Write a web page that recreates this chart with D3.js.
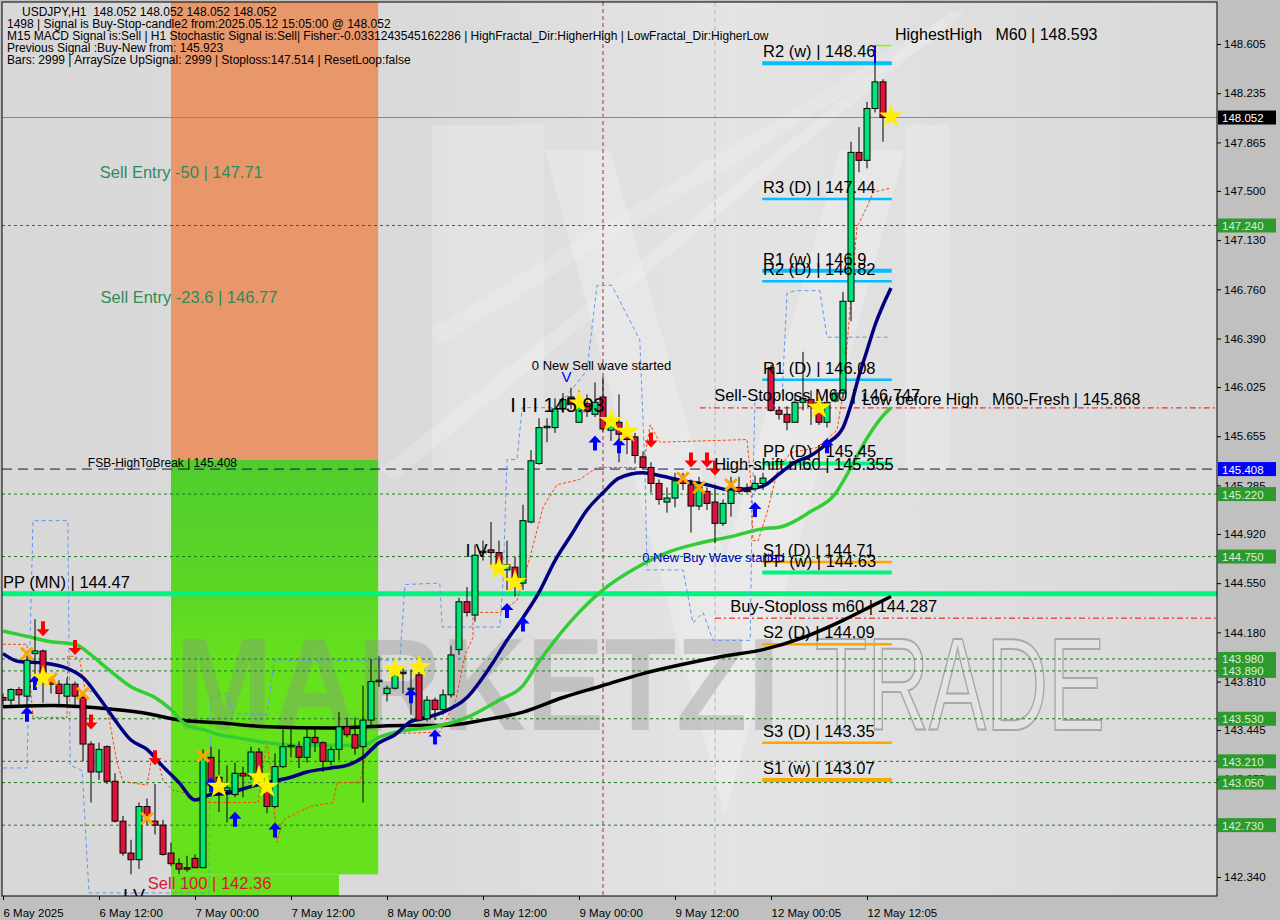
<!DOCTYPE html>
<html>
<head>
<meta charset="utf-8">
<script src="https://cdn.jsdelivr.net/npm/d3@7"></script>
<style>
body{margin:0;background:#c0c0c0;}
svg text{font-family:"Liberation Sans",Arial,sans-serif;white-space:pre;}
</style>
</head>
<body>
<div id="chart"></div>
<script>
// candles, one per hour, index 0 = 6 May 00:00
var opens  = [143.69,143.67,143.75,143.70,144.02,144.04,143.82,143.79,143.70,143.79,
              143.69,143.34,143.13,143.32,143.06,142.76,142.52,142.47,142.87,142.76,
              142.73,142.52,142.44,142.41,142.48,142.41,143.24,143.09,142.99,142.96,
              143.12,143.10,143.28,143.05,142.87,143.17,143.32,143.32,143.24,143.39,
              143.35,143.21,143.30,143.47,143.41,143.32,143.52,143.81,143.72,143.76,
              143.88,143.75,143.86,143.53,143.67,143.60,143.71,144.05,144.41,144.31,
              144.78,144.80,144.78,144.65,144.67,144.55,145.01,145.45,145.72,145.72,
              145.86,145.95,145.76,145.90,145.82,145.95,145.70,145.76,145.68,145.65,
              145.50,145.42,145.30,145.16,145.19,145.32,145.29,145.13,145.24,145.16,
              145.00,145.15,145.27,145.25,145.26,145.30,146.17,145.85,145.82,145.76,
              145.91,145.93,145.91,145.76,145.92,145.98,146.67,147.79,147.73,148.12,
              148.32];
var highs  = [143.72,143.76,143.77,144.03,144.28,144.05,143.85,143.82,143.84,143.81,
              143.71,143.36,143.35,143.33,143.12,142.80,142.62,142.90,142.93,143.04,
              142.77,142.60,142.48,142.50,142.51,143.30,143.32,143.30,143.18,143.20,
              143.17,143.32,143.31,143.08,143.27,143.45,143.46,143.36,143.45,143.45,
              143.36,143.32,143.58,143.54,143.54,143.78,143.98,144.00,143.78,143.91,
              143.92,143.90,143.90,143.70,143.69,143.75,144.08,144.44,144.52,144.84,
              144.87,145.01,144.87,144.87,144.75,145.14,145.55,145.79,145.79,145.94,
              145.98,146.02,146.00,145.97,146.06,146.10,145.83,145.97,145.72,145.68,
              145.54,145.46,145.33,145.27,145.38,145.38,145.33,145.35,145.27,145.29,
              145.18,145.35,145.35,145.30,145.36,145.38,146.19,145.88,145.88,145.98,
              146.29,146.00,145.95,146.00,146.00,146.74,147.87,147.98,148.17,148.593,
              148.34];
var lows   = [143.63,143.63,143.63,143.60,143.75,143.65,143.72,143.64,143.64,143.63,
              143.21,142.90,143.07,143.04,142.75,142.50,142.36,142.40,142.73,142.66,
              142.50,142.42,142.36,142.38,142.41,142.41,142.97,142.83,142.75,142.94,
              142.94,143.07,143.05,142.82,142.86,143.16,143.24,143.16,143.20,143.28,
              143.13,143.18,143.22,143.39,143.26,142.90,143.48,143.77,143.66,143.75,
              143.72,143.56,143.51,143.51,143.52,143.56,143.69,144.01,144.30,144.26,
              144.72,144.67,144.63,144.50,144.45,144.50,145.00,145.44,145.61,145.68,
              145.83,145.86,145.76,145.80,145.80,145.69,145.62,145.46,145.52,145.45,
              145.41,145.23,145.14,145.08,145.12,145.25,144.93,145.10,145.10,144.85,
              144.98,145.05,145.22,145.23,145.24,145.25,145.84,145.78,145.70,145.76,
              145.85,145.74,145.74,145.72,145.91,145.94,146.52,147.64,147.67,148.09,
              147.87];
var closes = [143.67,143.75,143.71,143.97,144.04,143.84,143.79,143.72,143.79,143.70,
              143.34,143.13,143.30,143.06,142.76,142.52,142.47,142.87,142.80,142.73,
              142.51,142.44,142.40,142.40,142.41,143.23,143.03,142.97,143.01,143.12,
              143.10,143.28,143.09,142.87,143.17,143.32,143.33,143.24,143.39,143.35,
              143.21,143.30,143.47,143.41,143.31,143.52,143.81,143.82,143.76,143.87,
              143.87,143.76,143.52,143.67,143.60,143.71,144.01,144.41,144.33,144.76,
              144.79,144.78,144.67,144.69,144.59,145.02,145.47,145.72,145.73,145.86,
              145.93,145.90,145.88,145.84,145.91,145.71,145.76,145.67,145.63,145.51,
              145.42,145.30,145.18,145.19,145.32,145.30,145.13,145.30,145.15,145.00,
              145.15,145.25,145.24,145.24,145.30,145.34,145.85,145.82,145.76,145.91,
              145.94,145.88,145.76,145.91,145.98,146.67,147.79,147.73,148.12,148.32,
              148.052];

var timeTickIdx = [0,12,24,36,48,60,72,84,96,108];
var timeLabels  = ["6 May 2025","6 May 12:00","7 May 00:00","7 May 12:00","8 May 00:00",
                   "8 May 12:00","9 May 00:00","9 May 12:00","12 May 00:05","12 May 12:05"];
var priceTicks  = [148.605,148.235,147.865,147.500,147.130,146.760,146.390,146.025,145.655,
                   145.285,144.920,144.550,144.180,143.810,143.445,143.075,142.340];

// moving averages (bar index, price)
var maNavyIdx = [0,2,5,8,10,12,14,16,18,20,22,24,26,28,31,33,36,38,41,43,45,47,49,51,53,55,58,61,63,65,67,69,71,73,75,77,80,82,85,88,91,93,95,97,99,101,103,105,106,107,108,109,110,111];
var maNavyVal = [144.02,143.96,143.95,143.91,143.84,143.69,143.52,143.37,143.30,143.17,143.05,142.92,142.96,142.97,143.02,143.05,143.09,143.13,143.16,143.18,143.24,143.35,143.41,143.51,143.54,143.58,143.69,143.93,144.12,144.29,144.48,144.72,144.91,145.10,145.23,145.34,145.38,145.36,145.32,145.29,145.25,145.26,145.28,145.37,145.46,145.51,145.60,145.72,145.89,146.11,146.30,146.49,146.64,146.77];
var maGreenIdx = [0,3,6,9,11,13,16,19,21,23,25,27,29,33,37,41,45,47,50,54,58,62,65,67,69,72,75,79,83,87,91,95,97,101,104,106,108,110,111];
var maGreenVal = [144.19,144.15,144.11,144.09,144.01,143.91,143.77,143.69,143.60,143.48,143.45,143.41,143.39,143.35,143.33,143.33,143.33,143.39,143.44,143.47,143.54,143.67,143.78,143.96,144.12,144.33,144.50,144.66,144.78,144.85,144.90,144.96,144.97,145.09,145.22,145.42,145.64,145.81,145.87];
var maBlackIdx = [0,6,10,14,18,22,27,33,41,50,55,60,65,70,75,80,85,90,95,100,105,109,111];
var maBlackVal = [143.62,143.63,143.62,143.60,143.57,143.52,143.50,143.47,143.46,143.48,143.48,143.52,143.58,143.69,143.78,143.87,143.94,144.00,144.05,144.14,144.27,144.39,144.45];

// trailing stop (orange dashed) and channel (blue dashed)
var trailIdx = [0,3,3.75,8,8.1,9,9.6,10.25,11.75,13,13.6,14.25,15,18,18.6,19.25,20,21.25,23,24.6,31.9,33,33.6,34.25,35,38.4,41.25,41.75,44.6,45.5,48,49.6,54.6,56.6,57.75,58.75,58.75,62.1,64.25,65.9,67.5,69.25,72.1,74.25,80,80.9,82.1,93,93.4,93.75,94.4,95.5,96.75,98.4,101.75,104.25,105,105.9,106.75,108,108.75,110.9];
var trailVal = [144.09,144.09,143.54,143.54,144.00,144.00,143.97,143.75,143.72,143.60,143.42,143.20,143.06,143.03,143.24,143.24,143.07,142.99,142.97,142.90,142.90,143.37,143.07,142.60,142.77,142.87,142.90,143.05,143.05,143.30,143.37,143.42,143.43,143.67,144.01,144.14,144.33,144.33,144.42,144.75,145.12,145.29,145.33,145.42,145.42,145.74,145.61,145.63,145.38,144.87,144.87,145.08,145.38,145.53,145.57,145.70,145.98,146.63,147.23,147.38,147.49,147.52];
var chanIdx = [0,3,3.75,8.1,8.4,9.9,10.75,25.75,26,28,28.75,33,33.9,49.6,50.25,54.6,54.9,62.1,62.5,63,64.25,64.9,69.25,73,74.25,76.1,79.6,80.25,80.5,85,86.25,87.5,88.75,93.4,93.6,94,96.25,97.4,98,99,102.1,103,110.6];
var chanVal = [143.16,143.16,145.02,145.02,143.18,143.14,142.22,142.22,143.69,143.72,143.57,143.56,143.97,143.97,144.54,144.55,144.22,144.22,144.55,145.48,145.48,145.87,145.87,146.15,146.79,146.79,146.38,145.40,144.65,144.65,144.25,144.33,144.12,144.12,144.97,145.93,145.93,145.98,146.73,146.75,146.75,146.40,146.40];

// signal markers
var downIdx = [5,9,11,19,81,86,88,89];
var downVal = [144.15,144.01,143.45,143.18,145.57,145.42,145.42,145.36];
var upIdx = [3,4,26,29,34,51,54,63,65,74,77,94,103];
var upVal = [143.62,143.86,143.09,142.83,142.75,143.76,143.45,144.40,144.30,145.66,145.64,145.16,145.64];
var starIdx = [5,27,32,33,49,52,62,64,72,76,78,102,111];
var starVal = [143.84,143.02,143.09,143.02,143.90,143.92,144.66,144.56,145.91,145.77,145.69,145.87,148.06];
var crossIdx = [3,6,10,18,25,85,87,91];
var crossVal = [144.02,143.83,143.72,142.78,143.25,145.34,145.27,145.29];

// horizontal levels
var levelValues = [147.240,145.220,144.750,143.980,143.890,143.530,143.210,143.050,142.730];
var lastPrice = 148.052;
var fsbLevel = 145.408;
var ppMonth = 144.47;
var pivotNames  = ["R2 (w)","R3 (D)","R1 (w)","R2 (D)","R1 (D)","PP (D)","S1 (D)","PP (w)","S2 (D)","S3 (D)","S1 (w)"];
var pivotValues = [148.46,147.44,146.9,146.82,146.08,145.45,144.71,144.63,144.09,143.35,143.07];
var sellStop = 145.868, buyStop = 144.287, highestHigh = 148.593;
var sellEntry50 = 147.71, sellEntry236 = 146.77, sell100 = 142.36, zoneTop = 145.476;

var headerLines = [
  "USDJPY,H1  148.052 148.052 148.052 148.052",
  "1498 | Signal is Buy-Stop-candle2 from:2025.05.12 15:05:00 @ 148.052",
  "M15 MACD Signal is:Sell | H1 Stochastic Signal is:Sell| Fisher:-0.0331243545162286 | HighFractal_Dir:HigherHigh | LowFractal_Dir:HigherLow",
  "Previous Signal :Buy-New from: 145.923",
  "Bars: 2999 | ArraySize UpSignal: 2999 | Stoploss:147.514 | ResetLoop:false"
];

function main(){ buildChart(); }

function buildChart(){
    var left = 2, top = 2, right = 1217, bottom = 896;

    var svg = d3.select("#chart").append("svg")
        .attr("width", 1280).attr("height", 920);

    var xScale = d3.scaleLinear().domain([0, 151.75]).range([3, 1217]);
    var yScale = d3.scaleLinear().domain([142.340, 148.605]).range([877, 44]);

    var defs = svg.append("defs");
    var bg = defs.append("linearGradient").attr("id", "bg").attr("x1", 0).attr("x2", 1).attr("y1", 0).attr("y2", 0);
    bg.append("stop").attr("offset", "0").attr("stop-color", "#d8d8d8");
    bg.append("stop").attr("offset", "0.35").attr("stop-color", "#dadada");
    bg.append("stop").attr("offset", "0.6").attr("stop-color", "#e4e4e4");
    bg.append("stop").attr("offset", "0.8").attr("stop-color", "#dedede");
    bg.append("stop").attr("offset", "1").attr("stop-color", "#d9d9d9");
    var gz = defs.append("linearGradient").attr("id", "gz").attr("x1", 0).attr("x2", 0).attr("y1", 0).attr("y2", 1);
    gz.append("stop").attr("offset", "0").attr("stop-color", "#4fcd2e");
    gz.append("stop").attr("offset", "0.35").attr("stop-color", "#5ed824");
    gz.append("stop").attr("offset", "0.5").attr("stop-color", "#66e21c");
    gz.append("stop").attr("offset", "1").attr("stop-color", "#66e21c");
    defs.append("clipPath").attr("id", "clip").append("rect")
        .attr("x", left).attr("y", top).attr("width", right - left).attr("height", bottom - top);

    svg.append("rect").attr("width", 1280).attr("height", 920).attr("fill", "#c0c0c0");
    svg.append("rect").attr("x", left).attr("y", top).attr("width", right - left).attr("height", bottom - top)
        .attr("fill", "url(#bg)");

    var plot = svg.append("g").attr("clip-path", "url(#clip)");

    // watermark logo
    var wm = plot.append("g").attr("fill", "#ffffff");
    wm.append("polygon").attr("points", "380,470 950,12 965,12 395,480").attr("opacity", 0.18);
    wm.append("polygon").attr("points", "430,330 940,20 950,30 440,345").attr("opacity", 0.15);
    wm.append("rect").attr("x", 432).attr("y", 125).attr("width", 112).attr("height", 345).attr("opacity", 0.2);
    wm.append("rect").attr("x", 905).attr("y", 125).attr("width", 45).attr("height", 345).attr("opacity", 0.2);
    wm.append("polygon").attr("points", "545,150 610,150 725,560 840,150 905,150 725,815").attr("opacity", 0.22);

    // zones
    plot.append("rect").attr("x", xScale(21)).attr("y", top)
        .attr("width", xScale(46.9) - xScale(21)).attr("height", yScale(zoneTop) - top)
        .attr("fill", "#e8976b");
    plot.append("rect").attr("x", xScale(21)).attr("y", yScale(zoneTop))
        .attr("width", xScale(46.9) - xScale(21)).attr("height", yScale(sell100) - yScale(zoneTop))
        .attr("fill", "url(#gz)");
    plot.append("rect").attr("x", xScale(21)).attr("y", yScale(sell100))
        .attr("width", xScale(42) - xScale(21)).attr("height", bottom - yScale(sell100))
        .attr("fill", "#66e21c");

    // watermark text
    plot.append("text").attr("x", 175).attr("y", 730).attr("font-size", 132).attr("font-weight", "bold")
        .attr("textLength", 605).attr("lengthAdjust", "spacingAndGlyphs")
        .attr("fill", "#8c8c8c").attr("fill-opacity", 0.35).text("MARKETZI");
    plot.append("text").attr("x", 815).attr("y", 730).attr("font-size", 132)
        .attr("textLength", 290).attr("lengthAdjust", "spacingAndGlyphs")
        .attr("fill", "#ffffff").attr("fill-opacity", 0.15).attr("stroke", "#a8a8a8").attr("stroke-width", 2)
        .text("TRADE");

    // vertical separators
    plot.append("line").attr("x1", xScale(75)).attr("x2", xScale(75)).attr("y1", top).attr("y2", bottom)
        .attr("stroke", "#a0304a").attr("stroke-dasharray", "4,3");
    plot.append("line").attr("x1", xScale(89)).attr("x2", xScale(89)).attr("y1", top).attr("y2", bottom)
        .attr("stroke", "#b8b8c8").attr("stroke-dasharray", "5,3");

    // level lines
    plot.selectAll(".lvl").data(levelValues).enter().append("line")
        .attr("x1", left).attr("x2", right).attr("y1", d => yScale(d)).attr("y2", d => yScale(d))
        .attr("stroke", "#1f7a1f").attr("stroke-dasharray", "3,3");
    plot.append("line").attr("x1", left).attr("x2", right).attr("y1", yScale(fsbLevel)).attr("y2", yScale(fsbLevel))
        .attr("stroke", "#141450").attr("stroke-dasharray", "10,6");
    plot.append("line").attr("x1", left).attr("x2", right).attr("y1", yScale(lastPrice)).attr("y2", yScale(lastPrice))
        .attr("stroke", "#7a8aa0");
    plot.append("line").attr("x1", left).attr("x2", right).attr("y1", yScale(ppMonth)).attr("y2", yScale(ppMonth))
        .attr("stroke", "#00f57f").attr("stroke-width", 5);
    plot.append("line").attr("x1", xScale(87.1)).attr("x2", right).attr("y1", yScale(sellStop)).attr("y2", yScale(sellStop))
        .attr("stroke", "#ff0000").attr("stroke-dasharray", "6,3,2,3");
    plot.append("line").attr("x1", xScale(89)).attr("x2", right).attr("y1", yScale(buyStop)).attr("y2", yScale(buyStop))
        .attr("stroke", "#ff0000").attr("stroke-dasharray", "6,3,2,3");

    // pivot lines
    function pivotColor(name){
        if (name.indexOf("PP") == 0) return "#00f57f";
        if (name.indexOf("R") == 0) return "#00bfff";
        return "#ffa500";
    }
    function pivotWidth(name){
        if (name.indexOf("(w)") > 0) return 4;
        if (name.indexOf("PP") == 0) return 4;
        return 2.5;
    }
    plot.selectAll(".piv").data(pivotValues).enter().append("line")
        .attr("x1", xScale(94.9)).attr("x2", xScale(111.1))
        .attr("y1", d => yScale(d)).attr("y2", d => yScale(d))
        .attr("stroke", (d, i) => pivotColor(pivotNames[i]))
        .attr("stroke-width", (d, i) => pivotWidth(pivotNames[i]));

    // channel and trailing lines
    var chanLine = d3.line().x(d => xScale(d[0])).y(d => yScale(d[1]));
    plot.append("path").datum(d3.zip(chanIdx, chanVal)).attr("d", chanLine)
        .attr("fill", "none").attr("stroke", "#6495ed").attr("stroke-dasharray", "4,3");
    plot.append("path").datum(d3.zip(trailIdx, trailVal)).attr("d", chanLine)
        .attr("fill", "none").attr("stroke", "#ff4500").attr("stroke-dasharray", "3,2");

    // moving averages
    var maLine = d3.line().x(d => xScale(d[0])).y(d => yScale(d[1])).curve(d3.curveMonotoneX);
    plot.append("path").datum(d3.zip(maBlackIdx, maBlackVal)).attr("d", maLine)
        .attr("fill", "none").attr("stroke", "#000000").attr("stroke-width", 3.5);
    plot.append("path").datum(d3.zip(maGreenIdx, maGreenVal)).attr("d", maLine)
        .attr("fill", "none").attr("stroke", "#32cd32").attr("stroke-width", 3.5);
    plot.append("path").datum(d3.zip(maNavyIdx, maNavyVal)).attr("d", maLine)
        .attr("fill", "none").attr("stroke", "#000080").attr("stroke-width", 3.5);

    // candles
    var idx = d3.range(opens.length);
    plot.selectAll(".wick").data(idx).enter().append("line")
        .attr("x1", i => xScale(i)).attr("x2", i => xScale(i))
        .attr("y1", i => yScale(highs[i])).attr("y2", i => yScale(lows[i]))
        .attr("stroke", "#000");
    plot.selectAll(".body").data(idx).enter().append("rect")
        .attr("x", i => xScale(i) - 3)
        .attr("y", i => yScale(Math.max(opens[i], closes[i])))
        .attr("width", 6)
        .attr("height", i => Math.max(1.5, Math.abs(yScale(opens[i]) - yScale(closes[i]))))
        .attr("fill", i => closes[i] >= opens[i] ? "#00e676" : "#dc143c")
        .attr("stroke", "#000").attr("stroke-width", 1);

    // highest high marker
    plot.append("line").attr("x1", xScale(109)).attr("x2", xScale(111)).attr("y1", yScale(highestHigh)).attr("y2", yScale(highestHigh))
        .attr("stroke", "#7cfc00").attr("stroke-width", 1.5);
    plot.append("line").attr("x1", xScale(109)).attr("x2", xScale(109)).attr("y1", yScale(highestHigh)).attr("y2", yScale(pivotValues[0]))
        .attr("stroke", "#0000ff").attr("stroke-width", 2);

    // markers
    var downArrow = "M-2,-15 L2,-15 L2,-7 L6.5,-7 L0,0 L-6.5,-7 L-2,-7 Z";
    var upArrow = "M-2,15 L2,15 L2,7 L6.5,7 L0,0 L-6.5,7 L-2,7 Z";
    plot.selectAll(".dn").data(d3.zip(downIdx, downVal)).enter().append("path")
        .attr("d", downArrow).attr("transform", d => "translate(" + xScale(d[0]) + "," + yScale(d[1]) + ")")
        .attr("fill", "#ff0000");
    plot.selectAll(".up").data(d3.zip(upIdx, upVal)).enter().append("path")
        .attr("d", upArrow).attr("transform", d => "translate(" + xScale(d[0]) + "," + yScale(d[1]) + ")")
        .attr("fill", "#0000ff");
    plot.selectAll(".cr").data(d3.zip(crossIdx, crossVal)).enter().append("path")
        .attr("d", d3.symbol(d3.symbolX, 90)())
        .attr("transform", d => "translate(" + xScale(d[0]) + "," + yScale(d[1]) + ")")
        .attr("fill", "none").attr("stroke", "#ffa500").attr("stroke-width", 3);
    plot.selectAll(".st").data(d3.zip(starIdx, starVal)).enter().append("path")
        .attr("d", d3.symbol(d3.symbolStar, 180)())
        .attr("transform", d => "translate(" + xScale(d[0]) + "," + yScale(d[1]) + ")")
        .attr("fill", "#ffee00");

    // annotations
    function note(txt, xi, price, dy, size, color){
        plot.append("text").attr("x", xScale(xi)).attr("y", yScale(price) + dy)
            .attr("font-size", size).attr("fill", color)
            .attr("xml:space", "preserve").text(txt);
    }
    note("Sell Entry -50 | " + sellEntry50, 12.1, sellEntry50, 15, 16.5, "#2e8b57");
    note("Sell Entry -23.6 | " + sellEntry236, 12.2, sellEntry236, 15, 16.5, "#2e8b57");
    note("Sell 100 | " + sell100, 18.1, sell100, 15, 16.5, "#dc143c");
    note("PP (MN) | " + ppMonth, 0, ppMonth, -6, 16.5, "#000");
    note("FSB-HighToBreak | " + fsbLevel.toFixed(3), 10.6, fsbLevel, -2, 12, "#000");
    pivotNames.forEach(function(n, i){
        note(n + " | " + pivotValues[i], 95, pivotValues[i], -6, 16.5, "#000");
    });
    note("Sell-Stoploss M60 | 146.747", 88.9, sellStop, -7, 16.5, "#000");
    note("Low before High   M60-Fresh | " + sellStop.toFixed(3), 107.4, sellStop, -3, 16, "#000");
    note("Buy-Stoploss m60 | " + buyStop.toFixed(3), 90.9, buyStop, -6, 16.5, "#000");
    note("High-shift m60 | 145.355", 88.9, 145.355, -6, 16.5, "#000");
    note("HighestHigh   M60 | " + highestHigh.toFixed(3), 111.5, highestHigh, -6, 16, "#000");
    note("0 New Sell wave started", 66.1, 146.15, 0, 13, "#000");
    note("0 New Buy Wave started", 79.9, 144.71, 0, 13, "#0000cd");
    note("I I I 145.93", 63.4, 145.93, 12, 20, "#000");
    note("I V", 57.8, 144.75, 0, 18, "#000");
    note("V", 69.8, 146.15, 12, 15, "#0000ff");
    note("I V", 15, 142.2, 6, 18, "#000");

    // header
    svg.selectAll(".hdr").data(headerLines).enter().append("text")
        .attr("x", (d, i) => i == 0 ? 22 : 7).attr("y", (d, i) => 16 + i * 12)
        .attr("font-size", 12).attr("fill", "#000")
        .attr("xml:space", "preserve").text(d => d);

    // frame
    svg.append("rect").attr("x", left).attr("y", top).attr("width", right - left).attr("height", bottom - top)
        .attr("fill", "none").attr("stroke", "#000");

    // price axis
    var yAxis = svg.append("g").attr("transform", "translate(" + right + ",0)")
        .call(d3.axisRight(yScale).tickValues(priceTicks).tickFormat(d3.format(".3f")).tickSize(4).tickPadding(3));
    yAxis.select(".domain").remove();
    yAxis.selectAll("text").attr("font-size", 11.5).attr("fill", "#000").attr("font-family", "Liberation Sans, Arial");
    yAxis.selectAll("line").attr("stroke", "#000");

    function tag(price, fill, color){
        var g = svg.append("g").attr("transform", "translate(1218," + yScale(price) + ")");
        g.append("rect").attr("x", 0).attr("y", -7).attr("width", 58).attr("height", 14).attr("fill", fill);
        g.append("text").attr("x", 4).attr("y", 4.5).attr("font-size", 11.5).attr("fill", color).text(price.toFixed(3));
    }
    levelValues.forEach(v => tag(v, "#2e9a2e", "#d8f0d8"));
    tag(fsbLevel, "#0000ff", "#ffffff");
    tag(lastPrice, "#000000", "#ffffff");

    // time axis
    var xAxis = svg.append("g").attr("transform", "translate(0," + bottom + ")")
        .call(d3.axisBottom(xScale).tickValues(timeTickIdx).tickFormat((d, i) => timeLabels[i]).tickSize(4));
    xAxis.select(".domain").remove();
    xAxis.selectAll("text").attr("font-size", 11.5).attr("fill", "#000")
        .attr("text-anchor", "start").attr("x", 0).attr("dy", "1.2em");
    xAxis.selectAll("line").attr("stroke", "#000");
}

main();
</script>
</body>
</html>
